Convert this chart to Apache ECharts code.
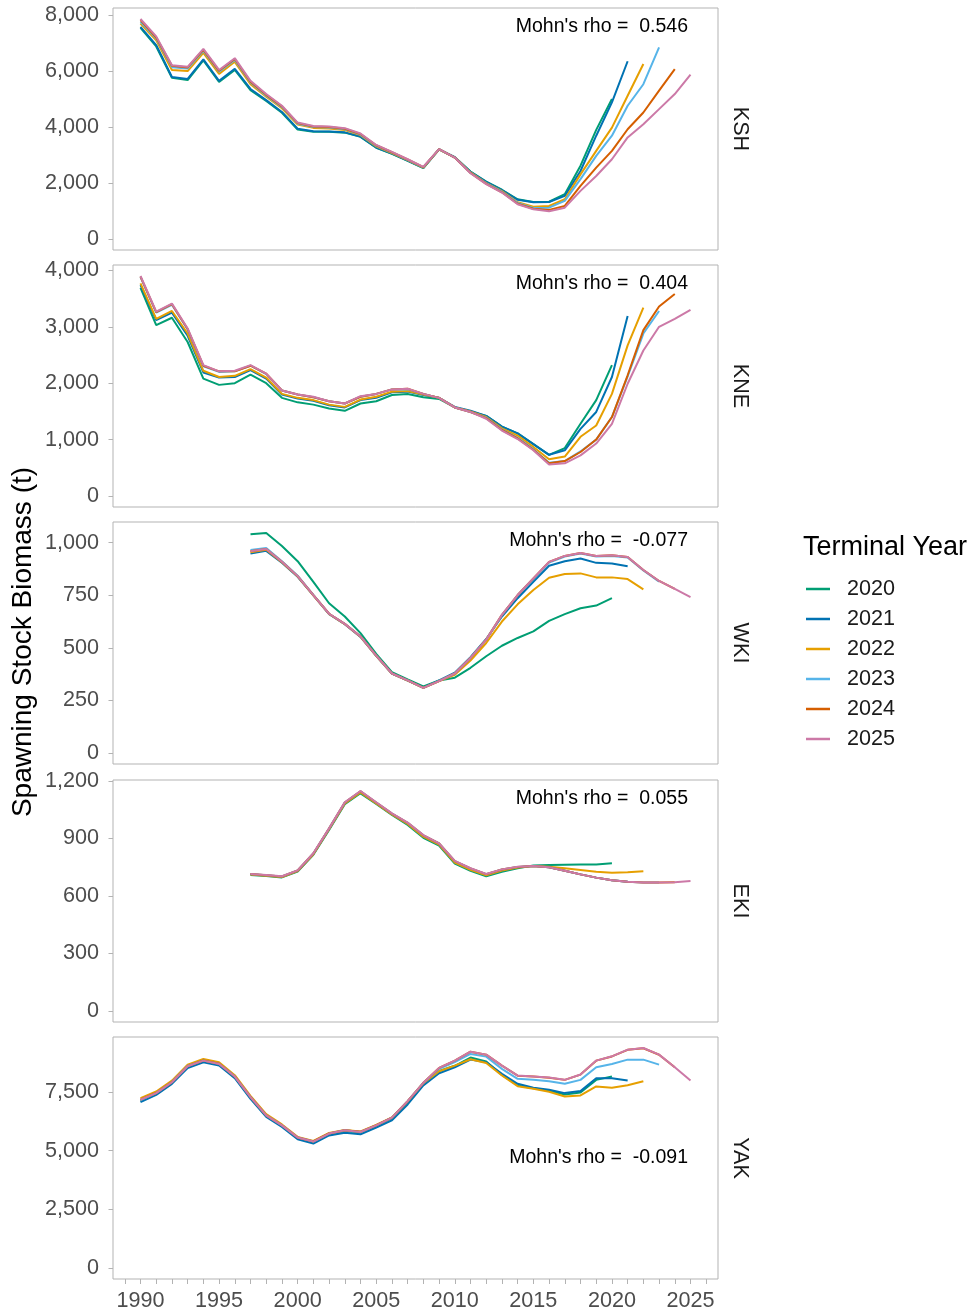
<!DOCTYPE html>
<html>
<head>
<meta charset="utf-8">
<script src="https://cdn.jsdelivr.net/npm/echarts@6/dist/echarts.min.js"></script>
<style>
  html, body { margin: 0; padding: 0; background: #ffffff; }
  #chart { width: 976px; height: 1314px; }
</style>
</head>
<body>
<div id="chart"></div>
<script>
// Retrospective spawning stock biomass (t) by terminal year, five stock areas.
const terminalYears = ['2020', '2021', '2022', '2023', '2024', '2025'];
const lineColors = ['#009E73', '#0072B2', '#E69F00', '#56B4E9', '#D55E00', '#CC79A7'];

// x-axis ticks (every year) and labelled years
const xTickYears = [1989,1990,1991,1992,1993,1994,1995,1996,1997,1998,1999,2000,2001,2002,2003,2004,2005,2006,2007,2008,2009,2010,2011,2012,2013,2014,2015,2016,2017,2018,2019,2020,2021,2022,2023,2024,2025,2026];
const xLabelYears = [1990, 1995, 2000, 2005, 2010, 2015, 2020, 2025];

// KSH, 1990 onward
const kshStart = 1990;
const ksh2020 = [7540,6880,5760,5680,6380,5610,6040,5320,4930,4510, 3910,3830,3830,3800,3650,3260,3040,2790,2530,3200, 2920,2410,2050,1760,1420,1320,1330,1600,2620,3900, 5000];
const ksh2021 = [7580,6930,5790,5720,6420,5650,6080,5360,4960,4540, 3940,3850,3840,3810,3660,3270,3050,2800,2540,3200, 2920,2400,2040,1750,1400,1310,1320,1540,2430,3690, 4880,6350];
const ksh2022 = [7700,7100,6040,6000,6650,5900,6330,5530,5080,4670, 4090,3970,3950,3890,3710,3310,3070,2820,2550,3200, 2910,2380,2000,1710,1310,1150,1180,1420,2310,3150, 3980,5120,6250];
const ksh2023 = [7760,7160,6140,6090,6720,5980,6400,5590,5120,4710, 4120,4000,3980,3920,3730,3330,3090,2830,2560,3210, 2910,2370,1990,1690,1290,1110,1120,1360,2140,2970, 3690,4760,5530,6850];
const ksh2024 = [7820,7200,6190,6130,6760,6010,6430,5620,5150,4740, 4140,4020,4000,3940,3750,3350,3100,2840,2570,3210, 2910,2360,1970,1670,1260,1080,1040,1180,1900,2550, 3150,3920,4520,5300,6070];
const ksh2025 = [7860,7240,6210,6150,6790,6040,6460,5650,5180,4760, 4160,4040,4020,3960,3770,3360,3110,2850,2580,3210, 2910,2350,1960,1660,1240,1060,990,1120,1720,2250, 2850,3630,4100,4640,5180,5870];
const kshTicks = [0, 2000, 4000, 6000, 8000];

// KNE, 1990 onward
const kneStart = 1990;
const kne2020 = [3690,3030,3160,2730,2080,1970,2000,2150,2000,1740, 1660,1620,1550,1510,1640,1680,1790,1810,1750,1720, 1570,1500,1420,1230,1110,920,730,850,1280,1700, 2320];
const kne2021 = [3740,3120,3250,2840,2190,2100,2110,2230,2080,1800, 1730,1690,1610,1570,1700,1740,1840,1850,1790,1740, 1580,1510,1420,1230,1110,920,730,810,1190,1490, 2110,3190];
const kne2022 = [3770,3140,3280,2880,2220,2110,2130,2250,2100,1810, 1740,1700,1620,1580,1710,1760,1850,1860,1800,1740, 1570,1500,1400,1200,1070,870,650,700,1050,1250, 1810,2670,3340];
const kne2023 = [3880,3250,3390,2950,2300,2200,2210,2310,2160,1870, 1800,1750,1680,1640,1760,1810,1890,1890,1810,1740, 1570,1490,1390,1180,1030,830,590,620,790,1000, 1400,2120,2880,3280];
const kne2024 = [3890,3260,3400,2960,2310,2210,2210,2310,2170,1870, 1800,1750,1680,1640,1760,1810,1890,1900,1810,1740, 1570,1490,1380,1170,1020,820,580,620,780,1000, 1400,2140,2940,3360,3580];
const kne2025 = [3900,3270,3410,2970,2320,2210,2220,2320,2170,1870, 1800,1760,1680,1640,1770,1810,1890,1900,1810,1740, 1570,1490,1370,1160,1010,810,560,580,720,930, 1280,1990,2580,3000,3140,3300];
const kneTicks = [0, 1000, 2000, 3000, 4000];

// WKI, 1997 onward
const wkiStart = 1997;
const wki2020 = [1040,1046,984,912,814,712,649,570,471,384,350,317,345,358,405,460,510,547,578,628,660,688,701,736];
const wki2021 = [948,961,905,838,749,660,612,552,462,377,344,311,345,382,456,542,649,736,814,890,912,925,904,901,888];
const wki2022 = [955,966,907,840,750,661,613,553,462,377,344,310,342,372,440,523,625,707,775,833,851,854,835,835,827,778];
const wki2023 = [965,975,912,843,752,662,614,554,463,378,345,310,343,378,452,539,655,750,828,905,934,948,934,937,930,868,815];
const wki2024 = [959,970,909,841,751,662,614,554,463,378,345,310,342,378,452,539,657,751,830,909,937,951,937,940,932,870,818,780];
const wki2025 = [959,970,909,841,751,662,614,554,463,378,345,310,342,378,452,539,657,751,830,909,937,951,937,940,932,870,818,780,741];
const wkiTicks = [0, 250, 500, 750, 1000];

// EKI, 1997 onward
const ekiStart = 1997;
const eki2020 = [710,704,697,727,815,945,1079,1136,1080,1023,971,904,863,769,731,703,727,745,759,762,763,764,765,771];
const eki2021 = [713,707,700,731,820,950,1085,1143,1085,1028,978,912,870,777,740,710,735,750,757,750,732,713,696,682,675];
const eki2022 = [712,706,699,730,818,948,1083,1140,1083,1026,976,910,868,775,737,708,733,749,757,753,745,736,727,722,724,729];
const eki2023 = [715,709,702,733,822,952,1088,1147,1088,1030,982,917,874,782,744,714,738,752,757,750,732,713,696,682,675,670,670];
const eki2024 = [715,709,702,733,822,952,1088,1147,1088,1030,982,917,874,782,744,714,738,752,757,750,732,713,696,682,675,670,670,672];
const eki2025 = [715,710,703,734,823,953,1089,1148,1089,1031,983,918,875,783,745,715,739,753,757,750,732,713,696,682,675,670,670,672,678];
const ekiTicks = [0, 300, 600, 900, 1200];

// YAK, 1990 onward
const yakStart = 1990;
const yak2020 = [7130,7440,7900,8580,8830,8680,8140,7260,6490,6060, 5540,5360,5710,5840,5780,6060,6380,7060,7860,8400, 8620,8970,8800,8230,7780,7660,7560,7400,7480,8020, 8160];
const yak2021 = [7071,7382,7850,8528,8770,8629,8090,7210,6440,6010, 5489,5305,5650,5770,5700,5990,6296,6973,7781,8302, 8557,8884,8771,8276,7852,7682,7597,7456,7541,8092, 8092,7993];
const yak2022 = [7241,7524,7990,8670,8910,8770,8220,7340,6560,6120, 5590,5420,5760,5880,5820,6100,6420,7100,7880,8387, 8628,8900,8742,8205,7753,7640,7512,7314,7356,7739, 7682,7795,7964];
const yak2023 = [7160,7460,7930,8610,8850,8710,8170,7290,6510,6080, 5560,5390,5730,5870,5800,6080,6410,7110,7890,8490, 8780,9124,9011,8488,8063,8021,7965,7851,8021,8558, 8699,8883,8883,8671];
const yak2024 = [7180,7460,7925,8605,8845,8705,8165,7290,6510,6085, 5565,5395,5735,5875,5805,6085,6410,7115,7895,8530, 8840,9220,9095,8625,8200,8160,8115,8020,8245,8840, 9020,9300,9370,9090,8560];
const yak2025 = [7173,7453,7920,8599,8841,8700,8162,7284,6507,6082, 5560,5390,5730,5870,5799,6082,6409,7114,7895,8531, 8841,9223,9096,8629,8205,8163,8120,8021,8247,8841, 9025,9308,9379,9096,8558,7992];
const yakTicks = [0, 2500, 5000, 7500];

const panelNames = ['KSH', 'KNE', 'WKI', 'EKI', 'YAK'];
const rhoValues = ['0.546', '0.404', '-0.077', '0.055', '-0.091'];

const panels = [
  { start: kshStart, runs: [ksh2020, ksh2021, ksh2022, ksh2023, ksh2024, ksh2025], ticks: kshTicks },
  { start: kneStart, runs: [kne2020, kne2021, kne2022, kne2023, kne2024, kne2025], ticks: kneTicks },
  { start: wkiStart, runs: [wki2020, wki2021, wki2022, wki2023, wki2024, wki2025], ticks: wkiTicks },
  { start: ekiStart, runs: [eki2020, eki2021, eki2022, eki2023, eki2024, eki2025], ticks: ekiTicks },
  { start: yakStart, runs: [yak2020, yak2021, yak2022, yak2023, yak2024, yak2025], ticks: yakTicks }
];

// layout
const FONT = '"Liberation Sans", Arial, sans-serif';
const gridLeft = 113, gridWidth = 605, panelHeight = 242;
const panelTops = [8, 265, 522, 780, 1037];
const rhoY = [27, 284, 541, 799, 1158];
const tickColor = '#b3b3b3', labelColor = '#4d4d4d';

const grids = [], xAxes = [], yAxes = [], series = [], graphics = [];
const fmt = v => v.toLocaleString('en-US');

panels.forEach((p, i) => {
  const peak = Math.max(...p.runs.map(r => Math.max(...r)));
  const isBottom = i === panels.length - 1;
  grids.push({
    left: gridLeft, width: gridWidth, top: panelTops[i], height: panelHeight,
    show: true, borderColor: tickColor, borderWidth: 1, backgroundColor: '#ffffff'
  });
  xAxes.push({
    type: 'value', gridIndex: i, position: 'bottom', min: 1988.25, max: 2026.75,
    splitLine: { show: false }, axisLine: { show: false, onZero: false },
    axisTick: { show: isBottom, customValues: xTickYears, length: 5, lineStyle: { color: tickColor } },
    axisLabel: { show: isBottom, customValues: xLabelYears, formatter: v => String(v),
      fontSize: 21.6, color: labelColor, fontFamily: FONT, margin: 11 }
  });
  yAxes.push({
    type: 'value', gridIndex: i, position: 'left', min: -0.05 * peak, max: 1.05 * peak,
    splitLine: { show: false }, axisLine: { show: false, onZero: false },
    axisTick: { show: true, customValues: p.ticks, length: 4.5, lineStyle: { color: tickColor } },
    axisLabel: { customValues: p.ticks, formatter: fmt, fontSize: 21.6, color: labelColor,
      fontFamily: FONT, margin: 14, padding: [4, 0, 0, 0] }
  });
  p.runs.forEach((run, j) => {
    series.push({
      type: 'line', name: terminalYears[j], xAxisIndex: i, yAxisIndex: i,
      data: run.map((v, k) => [p.start + k, v]),
      symbol: 'none', showSymbol: false, silent: true,
      lineStyle: { width: 2, color: lineColors[j] }, itemStyle: { color: lineColors[j] },
      emphasis: { disabled: true }, z: 2 + j
    });
  });
  // facet strip label on the right
  graphics.push({
    type: 'text', x: 740, y: panelTops[i] + panelHeight / 2, rotation: -Math.PI / 2,
    style: { text: panelNames[i], fontSize: 21.6, fontFamily: FONT, fill: '#1a1a1a',
      align: 'center', verticalAlign: 'middle' }
  });
  // retrospective bias annotation
  graphics.push({
    type: 'text', x: 688, y: rhoY[i],
    style: { text: "Mohn's rho =  " + rhoValues[i], fontSize: 19.5, fontFamily: FONT, fill: '#000000',
      align: 'right', verticalAlign: 'middle' }
  });
});

graphics.push({
  type: 'text', x: 23, y: 642, rotation: Math.PI / 2,
  style: { text: 'Spawning Stock Biomass (t)', fontSize: 28, fontFamily: FONT, fill: '#000000',
    align: 'center', verticalAlign: 'middle' }
});
graphics.push({
  type: 'text', x: 803, y: 548,
  style: { text: 'Terminal Year', fontSize: 27, fontFamily: FONT, fill: '#000000',
    align: 'left', verticalAlign: 'middle' }
});

const chart = echarts.init(document.getElementById('chart'), null, { renderer: 'canvas' });
chart.setOption({
  animation: false,
  backgroundColor: '#ffffff',
  grid: grids,
  xAxis: xAxes,
  yAxis: yAxes,
  series: series,
  legend: {
    data: terminalYears, orient: 'vertical', left: 806, top: 578, padding: 0,
    icon: 'rect', itemWidth: 24, itemHeight: 2.5, itemGap: 8, selectedMode: false,
    textStyle: { fontSize: 21.6, fontFamily: FONT, color: '#1a1a1a', padding: [0, 0, 0, 12], lineHeight: 22 }
  },
  graphic: graphics
});
</script>
</body>
</html>
